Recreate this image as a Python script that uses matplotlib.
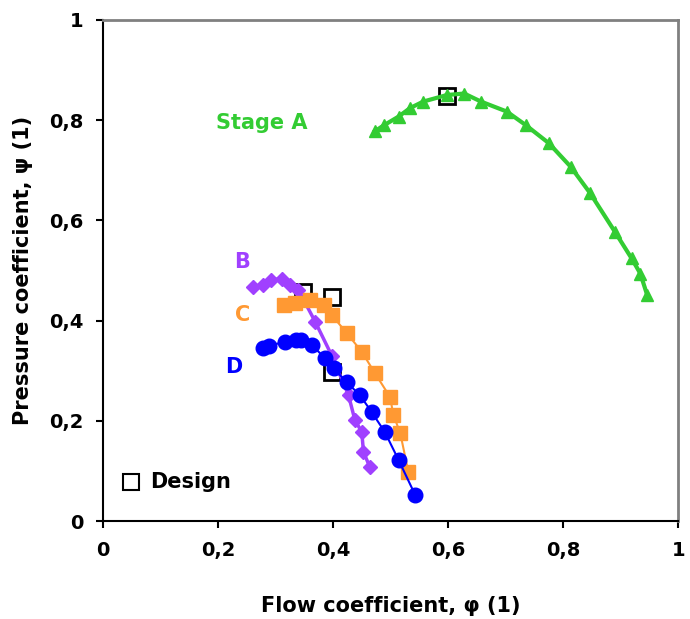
import matplotlib.pyplot as plt

plt.rcParams['font.family'] = ['DejaVu Sans']
plt.rcParams['font.weight'] = 'bold'

# Stage A (green, triangles)
phi_a = [0.473, 0.489, 0.514, 0.534, 0.557, 0.598, 0.628, 0.657, 0.702, 0.735,
         0.775, 0.813, 0.847, 0.890, 0.919, 0.934, 0.946]
psi_a = [0.778, 0.790, 0.807, 0.824, 0.837, 0.850, 0.853, 0.837, 0.817, 0.790,
         0.754, 0.707, 0.654, 0.577, 0.524, 0.494, 0.451]

# Stage B (purple, diamonds)
phi_b = [0.261, 0.279, 0.293, 0.311, 0.325, 0.340, 0.369, 0.398, 0.427, 0.438,
         0.450, 0.453, 0.464]
psi_b = [0.468, 0.471, 0.481, 0.484, 0.471, 0.461, 0.398, 0.330, 0.251, 0.202,
         0.178, 0.138, 0.108]

# Stage C (orange, squares)
phi_c = [0.314, 0.334, 0.360, 0.385, 0.398, 0.424, 0.450, 0.473, 0.499, 0.505,
         0.517, 0.531]
psi_c = [0.431, 0.435, 0.441, 0.432, 0.411, 0.375, 0.338, 0.295, 0.248, 0.212,
         0.175, 0.098]

# Stage D (blue, circles)
phi_d = [0.279, 0.289, 0.317, 0.335, 0.345, 0.363, 0.386, 0.401, 0.424, 0.447,
         0.467, 0.490, 0.514, 0.543]
psi_d = [0.345, 0.350, 0.358, 0.362, 0.361, 0.352, 0.325, 0.305, 0.277, 0.251,
         0.218, 0.178, 0.122, 0.052]

# design points
phi_design = [0.598, 0.348, 0.399, 0.398]
psi_design = [0.848, 0.458, 0.448, 0.298]

ticks = [0, 0.2, 0.4, 0.6, 0.8, 1]
tick_labels = ['0', '0,2', '0,4', '0,6', '0,8', '1']

green = '#33cc33'
purple = '#a040ff'
orange = '#ff9933'
blue = '#0000ff'

fig = plt.figure(figsize=(6.9, 6.19), dpi=100)
ax = fig.add_axes([0.149, 0.158, 0.834, 0.810])

ax.plot(phi_design, psi_design, linestyle='none', marker='s', markersize=12,
        markerfacecolor='none', markeredgecolor='black', markeredgewidth=2, zorder=2)

ax.plot(phi_a, psi_a, color=green, lw=3, marker='^', markersize=8, zorder=3)
ax.plot(phi_b, psi_b, color=purple, lw=2.5, marker='D', markersize=7, zorder=3)
ax.plot(phi_c, psi_c, color=orange, lw=1.5, marker='s', markersize=10.5, zorder=3)
ax.plot(phi_d, psi_d, color=blue, lw=1.5, marker='o', markersize=10.5, zorder=3)

ax.text(0.197, 0.794, 'Stage A', color=green, fontsize=15, fontweight='bold', va='center')
ax.text(0.228, 0.517, 'B', color=purple, fontsize=15, fontweight='bold', va='center')
ax.text(0.230, 0.411, 'C', color=orange, fontsize=15, fontweight='bold', va='center')
ax.text(0.212, 0.307, 'D', color=blue, fontsize=15, fontweight='bold', va='center')

# legend entry for design points
ax.plot([0.049], [0.078], linestyle='none', marker='s', markersize=11,
        markerfacecolor='none', markeredgecolor='black', markeredgewidth=1.5)
ax.text(0.082, 0.078, 'Design', color='black', fontsize=15, fontweight='bold', va='center')

ax.set_xlim(0, 1)
ax.set_ylim(0, 1)
ax.set_xticks(ticks)
ax.set_xticklabels(tick_labels)
ax.set_yticks(ticks)
ax.set_yticklabels(tick_labels)
ax.tick_params(labelsize=14, length=5, width=1.5, direction='out', pad=9)

for s in ['left', 'bottom']:
    ax.spines[s].set_color('black')
    ax.spines[s].set_linewidth(1.5)
for s in ['top', 'right']:
    ax.spines[s].set_color('#808080')
    ax.spines[s].set_linewidth(2)

ax.set_xlabel('Flow coefficient, φ (1)', fontsize=15, fontweight='bold', labelpad=26)
ax.set_ylabel('Pressure coefficient, ψ (1)', fontsize=15, fontweight='bold')
ax.yaxis.set_label_coords(-0.122, 0.5)

fig.savefig('out.png', dpi=100)
